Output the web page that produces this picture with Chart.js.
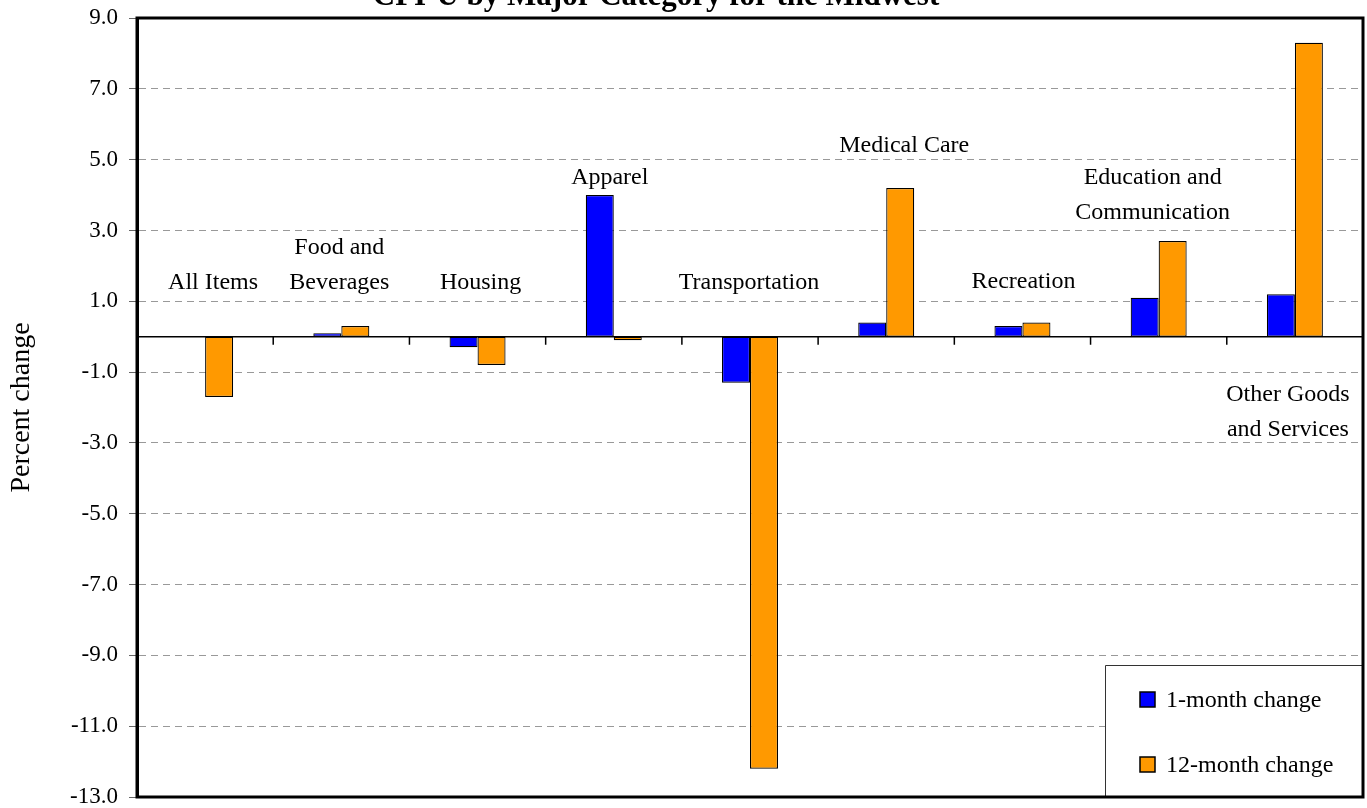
<!DOCTYPE html>
<html>
<head>
<meta charset="utf-8">
<title>CPI-U by Major Category for the Midwest</title>
<script src="https://cdn.jsdelivr.net/npm/chart.js@4.4.1/dist/chart.umd.min.js"></script>
<style>
  html, body { margin: 0; padding: 0; background: #fff; }
  #wrap { position: relative; width: 1367px; height: 808px; }
</style>
</head>
<body>
<div id="wrap"><canvas id="chart1"></canvas></div>
<script>
// Categorías (una entrada por línea de texto)
const categories = [
  ["All Items"],
  ["Food and", "Beverages"],
  ["Housing"],
  ["Apparel"],
  ["Transportation"],
  ["Medical Care"],
  ["Recreation"],
  ["Education and", "Communication"],
  ["Other Goods", "and Services"],
];

// Series (porcentaje de cambio)
const oneMonthChange = [0.0, 0.1, -0.3, 4.0, -1.3, 0.4, 0.3, 1.1, 1.2];
const twelveMonthChange = [-1.7, 0.3, -0.8, -0.1, -12.2, 4.2, 0.4, 2.7, 8.3];
const seriesNames = ["1-month change", "12-month change"];

// Eje Y
const yMin = -13;
const yMax = 9;
const yStep = 2;

const chartTitle = "CPI-U by Major Category for the Midwest";
const serif = "'Liberation Serif', 'Times New Roman', serif";

// Dónde va el nombre de cada categoría: valor del eje Y de la primera línea y corrimiento en px
const labelPlacement = [
  { y: 1.35, dx: 8 },
  { y: 2.34, dx: -2 },
  { y: 1.35, dx: 3 },
  { y: 4.31, dx: -4 },
  { y: 1.35, dx: -1 },
  { y: 5.22, dx: 18 },
  { y: 1.38, dx: 1 },
  { y: 4.31, dx: -6 },
  { y: -1.82, dx: -7 },
];

// Plugin: línea cero, marcas de categoría, nombres, leyenda, marco y título
const adornos = {
  id: "adornos",
  beforeDatasetsDraw(chart) {
    const { ctx, chartArea, scales } = chart;
    const y0 = scales.y.getPixelForValue(0);
    ctx.save();
    ctx.strokeStyle = "#000";
    ctx.lineWidth = 1.5;
    ctx.beginPath();
    ctx.moveTo(chartArea.left, y0);
    ctx.lineTo(chartArea.right, y0);
    for (let i = 0; i < categories.length - 1; i++) {
      const xb = (scales.x.getPixelForValue(i) + scales.x.getPixelForValue(i + 1)) / 2;
      ctx.moveTo(xb, y0);
      ctx.lineTo(xb, y0 + 8);
    }
    ctx.stroke();
    ctx.restore();
  },
  afterDatasetsDraw(chart) {
    const { ctx, chartArea, scales } = chart;
    ctx.save();

    // nombres de categorías
    ctx.fillStyle = "#000";
    ctx.font = "24px " + serif;
    ctx.textAlign = "center";
    ctx.textBaseline = "alphabetic";
    categories.forEach((lines, i) => {
      const cx = scales.x.getPixelForValue(i) + labelPlacement[i].dx;
      const by = scales.y.getPixelForValue(labelPlacement[i].y);
      lines.forEach((txt, k) => ctx.fillText(txt, cx, by + k * 35));
    });

    // leyenda
    const lw = 258, lh = 132;
    const lx = chartArea.right - lw;
    const ly = chartArea.bottom - lh;
    ctx.fillStyle = "#fff";
    ctx.fillRect(lx, ly, lw, lh);
    ctx.strokeStyle = "#333";
    ctx.lineWidth = 1;
    ctx.beginPath();
    ctx.moveTo(lx + 0.5, chartArea.bottom);
    ctx.lineTo(lx + 0.5, ly + 0.5);
    ctx.lineTo(chartArea.right, ly + 0.5);
    ctx.stroke();
    ctx.font = "24px " + serif;
    ctx.textAlign = "left";
    chart.data.datasets.forEach((ds, i) => {
      const cy = ly + 34.5 + i * 65;
      ctx.fillStyle = ds.backgroundColor;
      ctx.fillRect(lx + 35, cy - 7.5, 15, 15);
      ctx.strokeStyle = "#000";
      ctx.lineWidth = 1.5;
      ctx.strokeRect(lx + 35, cy - 7.5, 15, 15);
      ctx.fillStyle = "#000";
      ctx.fillText(ds.label, lx + 61, cy + 7);
    });

    // marco del área de la gráfica
    ctx.strokeStyle = "#000";
    ctx.lineWidth = 3;
    ctx.strokeRect(chartArea.left, chartArea.top, chartArea.right - chartArea.left, chartArea.bottom - chartArea.top);

    // título (cortado arriba como en el original)
    ctx.fillStyle = "#000";
    ctx.font = "bold 31px " + serif;
    ctx.textAlign = "center";
    ctx.fillText(chartTitle, 656, 5);
    ctx.restore();
  },
};

var ctx1 = document.getElementById("chart1").getContext("2d");
var chart1 = new Chart(ctx1, {
  type: "bar",
  data: {
    labels: categories.map((c) => c.join(" ")),
    datasets: [
      {
        label: seriesNames[0],
        data: oneMonthChange,
        backgroundColor: "#0000FF",
        borderColor: "#000",
        borderWidth: 1.2,
        borderSkipped: false,
        categoryPercentage: 0.411,
        barPercentage: 1,
      },
      {
        label: seriesNames[1],
        data: twelveMonthChange,
        backgroundColor: "#FF9900",
        borderColor: "#000",
        borderWidth: 1.2,
        borderSkipped: false,
        categoryPercentage: 0.411,
        barPercentage: 1,
      },
    ],
  },
  options: {
    responsive: true,
    maintainAspectRatio: false,
    animation: false,
    layout: { padding: { top: 18, right: 4, bottom: 11, left: 0 } },
    plugins: {
      legend: { display: false },
      tooltip: { enabled: false },
      title: { display: false },
    },
    scales: {
      x: { display: false },
      y: {
        min: yMin,
        max: yMax,
        afterFit: function (scale) {
          scale.width = 137;
          scale.paddingTop = 0;
          scale.paddingBottom = 0;
        },
        ticks: {
          stepSize: yStep,
          callback: (v) => Number(v).toFixed(1),
          color: "#000",
          padding: 11,
          font: { family: serif, size: 23, lineHeight: 1 },
        },
        grid: {
          color: "#999",
          lineWidth: 1,
          tickLength: 8,
          tickColor: "#666",
        },
        border: { display: true, color: "#000", width: 3, dash: [7, 5] },
        title: {
          display: true,
          text: "Percent change",
          color: "#000",
          font: { family: serif, size: 28 },
          padding: { top: 5, bottom: 0 },
        },
      },
    },
  },
  plugins: [adornos],
});
</script>
</body>
</html>
